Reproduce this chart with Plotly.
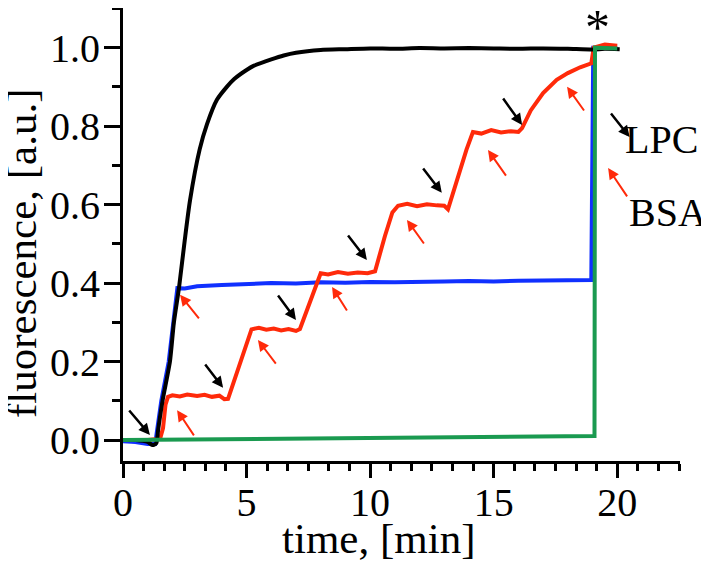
import plotly.graph_objects as go

# ---------------- data ----------------
black_t = [0.0, 0.5, 1.0, 1.2, 1.35, 1.42, 1.6, 1.9, 2.06, 2.27, 2.5, 2.71, 3.1, 3.4, 3.8, 4.2, 4.5,
           5.0, 5.3, 6.0, 6.5, 7.0, 8.0, 9.0, 10.0, 11.0, 12.0, 13.0, 14.0, 15.0, 16.0, 17.0, 18.0,
           19.0, 19.5, 20.1]
black_f = [0.000, 0.000, -0.005, -0.013, -0.008, 0.025, 0.100, 0.200, 0.300, 0.390, 0.510, 0.610,
           0.740, 0.805, 0.867, 0.900, 0.920, 0.943, 0.954, 0.970, 0.980, 0.987, 0.994, 0.996, 0.998,
           0.997, 0.999, 0.998, 0.999, 0.998, 0.997, 0.998, 0.997, 0.995, 0.997, 0.996]

blue_t = [0.0, 0.5, 1.0, 1.25, 1.3, 1.38, 1.55, 1.85, 2.02, 2.2, 2.5, 3.0, 4.0, 5.0, 6.0, 7.0, 8.0,
          9.0, 10.0, 11.0, 12.0, 13.0, 14.0, 15.0, 16.0, 17.0, 18.0, 18.95, 19.03, 19.5, 20.0]
blue_f = [-0.003, -0.005, -0.010, -0.012, -0.010, 0.025, 0.100, 0.200, 0.300, 0.387, 0.386, 0.392,
          0.395, 0.398, 0.400, 0.399, 0.402, 0.401, 0.403, 0.402, 0.404, 0.404, 0.405, 0.404, 0.406,
          0.406, 0.407, 0.408, 1.000, 1.000, 1.000]

green_t = [0.0, 2.0, 4.0, 6.0, 8.0, 10.0, 12.0, 14.0, 16.0, 18.0, 19.08, 19.1, 19.5, 20.0]
green_f = [0.000, 0.001, 0.002, 0.003, 0.004, 0.005, 0.006, 0.007, 0.008, 0.009, 0.010, 1.000,
           1.000, 0.998]

red_t = [0.0, 1.0, 1.5, 1.62, 1.72, 1.82, 2.0, 2.3, 2.6, 3.0, 3.3, 3.6, 3.9, 4.1, 4.25, 4.6, 4.9,
         5.2, 5.5, 5.8, 6.1, 6.4, 6.7, 7.0, 7.16, 7.5, 7.8, 8.0, 8.3, 8.7, 9.1, 9.5, 9.9, 10.2, 10.6,
         10.9, 11.13, 11.5, 11.9, 12.3, 12.7, 13.0, 13.15, 13.5, 13.9, 14.16, 14.5, 14.9, 15.3, 15.7,
         16.0, 16.15, 16.5, 17.0, 17.55, 18.0, 18.5, 18.95, 19.05, 19.5, 20.0]
red_f = [0.000, 0.000, 0.003, 0.030, 0.090, 0.110, 0.114, 0.111, 0.116, 0.112, 0.115, 0.110, 0.113,
         0.104, 0.105, 0.170, 0.230, 0.282, 0.286, 0.281, 0.284, 0.279, 0.283, 0.278, 0.283, 0.340,
         0.390, 0.425, 0.422, 0.428, 0.424, 0.427, 0.425, 0.430, 0.520, 0.580, 0.597, 0.602, 0.596,
         0.601, 0.598, 0.597, 0.588, 0.660, 0.740, 0.785, 0.781, 0.790, 0.784, 0.787, 0.785, 0.795,
         0.840, 0.884, 0.918, 0.935, 0.950, 0.960, 1.000, 1.008, 1.005]

# LPC additions (black arrows): tip and tail
lpc_tip_t = [1.09, 4.05, 7.00, 9.87, 12.90, 16.15, 20.50]
lpc_tip_f = [0.013, 0.133, 0.306, 0.459, 0.630, 0.803, 0.772]
lpc_tail_t = [0.20, 3.28, 6.23, 9.06, 12.10, 15.34, 19.70]
lpc_tail_f = [0.079, 0.196, 0.372, 0.525, 0.696, 0.874, 0.836]

# BSA additions (red arrows): tip and tail
bsa_tip_t = [2.19, 2.31, 5.46, 8.46, 11.49, 14.77, 17.97, 19.63]
bsa_tip_f = [0.076, 0.370, 0.255, 0.390, 0.561, 0.739, 0.900, 0.693]
bsa_tail_t = [2.91, 3.12, 6.23, 9.10, 12.22, 15.54, 18.70, 20.44]
bsa_tail_f = [0.008, 0.306, 0.191, 0.326, 0.497, 0.670, 0.836, 0.617]

x_ticks = [0, 5, 10, 15, 20]
y_ticks = [0.0, 0.2, 0.4, 0.6, 0.8, 1.0]

# ---------------- figure ----------------
FONT = "Liberation Serif, Times New Roman, serif"
RED = "#ff2a0a"
BLUE = "#1030ff"
GREEN = "#1a9a50"

fig = go.Figure()
fig.add_trace(go.Scatter(x=blue_t, y=blue_f, mode="lines", line=dict(color=BLUE, width=4)))
fig.add_trace(go.Scatter(x=red_t, y=red_f, mode="lines", line=dict(color=RED, width=4)))
fig.add_trace(go.Scatter(x=black_t, y=black_f, mode="lines",
                         line=dict(color="black", width=4, shape="spline", smoothing=0.6)))
fig.add_trace(go.Scatter(x=green_t, y=green_f, mode="lines", line=dict(color=GREEN, width=4)))

ann = []
for tx, ty, sx, sy in zip(lpc_tip_t, lpc_tip_f, lpc_tail_t, lpc_tail_f):
    ann.append(dict(x=tx, y=ty, ax=sx, ay=sy, xref="x", yref="y", axref="x", ayref="y",
                    text="", showarrow=True, arrowhead=2, arrowsize=0.9, arrowwidth=2.5,
                    arrowcolor="black"))
for tx, ty, sx, sy in zip(bsa_tip_t, bsa_tip_f, bsa_tail_t, bsa_tail_f):
    ann.append(dict(x=tx, y=ty, ax=sx, ay=sy, xref="x", yref="y", axref="x", ayref="y",
                    text="", showarrow=True, arrowhead=2, arrowsize=1.1, arrowwidth=2,
                    arrowcolor=RED))

ann.append(dict(x=21.8, y=0.765, xref="x", yref="y", text="LPC", showarrow=False,
                font=dict(family=FONT, size=40, color="black"), xanchor="center", yanchor="middle"))
ann.append(dict(x=22.06, y=0.579, xref="x", yref="y", text="BSA", showarrow=False,
                font=dict(family=FONT, size=40, color="black"), xanchor="center", yanchor="middle"))
ann.append(dict(x=19.2, y=1.053, xref="x", yref="y", text="*", showarrow=False,
                font=dict(family=FONT, size=50, color="black"), xanchor="center", yanchor="middle"))
ann.append(dict(x=0.4596, y=-0.1715, xref="paper", yref="paper", text="time, [min]",
                showarrow=False, font=dict(family=FONT, size=43, color="black"),
                xanchor="center", yanchor="middle"))
ann.append(dict(x=-0.1813, y=0.457, xref="paper", yref="paper", text="fluorescence, [a.u.]",
                showarrow=False, textangle=-90, font=dict(family=FONT, size=43, color="black"),
                xanchor="center", yanchor="middle"))

fig.update_layout(
    width=709, height=569,
    margin=dict(l=115, r=37, t=0, b=116),
    paper_bgcolor="white", plot_bgcolor="white",
    showlegend=False,
    font=dict(family=FONT, size=40, color="black"),
    annotations=ann,
)
fig.update_xaxes(
    range=[0, 22.54], showgrid=False, zeroline=False,
    showline=True, linewidth=3, linecolor="black",
    tickmode="array", tickvals=x_ticks, ticktext=[str(v) for v in x_ticks],
    ticks="outside", ticklen=14, tickwidth=3, tickcolor="black",
    ticklabelstandoff=-10,
    minor=dict(dtick=5/6, tick0=0, ticks="outside", ticklen=7, tickwidth=3, tickcolor="black",
               showgrid=False),
    tickfont=dict(family=FONT, size=40, color="black"),
)
fig.update_yaxes(
    range=[-0.0535, 1.101], showgrid=False, zeroline=False,
    showline=True, linewidth=3, linecolor="black",
    tickmode="array", tickvals=y_ticks, ticktext=[f"{v:.1f}" for v in y_ticks],
    ticks="outside", ticklen=16, tickwidth=3, tickcolor="black",
    ticklabelstandoff=-4,
    minor=dict(dtick=0.1, tick0=0, ticks="outside", ticklen=8, tickwidth=3, tickcolor="black",
               showgrid=False),
    tickfont=dict(family=FONT, size=40, color="black"),
)

fig.write_html("out.html")
